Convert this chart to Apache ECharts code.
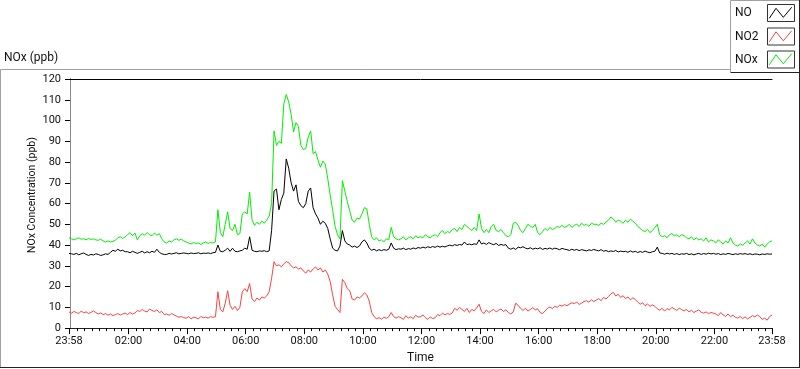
<!DOCTYPE html>
<html>
<head>
<meta charset="utf-8">
<script src="https://cdn.jsdelivr.net/npm/echarts@6/dist/echarts.min.js"></script>
<style>
html,body{margin:0;padding:0;background:#fff;}
#chart{width:800px;height:369px;}
</style>
</head>
<body>
<div id="chart"></div>
<script>
// Time axis: minutes since midnight, first sample at 23:58 (-2), one sample every 5 minutes
const T0 = -2;
const STEP = 5;
const X_MIN = -2;
const X_MAX = 1438;

const majorTickValues = [-2, 120, 240, 360, 480, 600, 720, 840, 960, 1080, 1200, 1320, 1438];
const majorTickLabels = ['23:58', '02:00', '04:00', '06:00', '08:00', '10:00', '12:00', '14:00', '16:00', '18:00', '20:00', '22:00', '23:58'];

const seriesNames = ['NO', 'NO2', 'NOx'];

const noValues = [
  36,35.8,35.5,36,35.3,35.8,36.2,35.5,35,35.5,35.2,35.8,
  35.5,35,35.3,35.8,35.5,36.5,37.5,37,38,37.2,37.5,36.8,
  36.8,36.3,37,36.5,36,36.5,37,36.2,36.8,36.3,37,36.5,
  38,36.5,35.8,35.5,35.5,36,35.7,36,36.3,35.8,36,36.2,
  36,35.8,36.2,35.9,36,36.3,35.8,36.1,36,36.2,35.9,36.3,
  36.5,40,37,36.8,37.5,38.5,37,38.5,37,36.8,37.2,37.5,
  38.5,38,44,37.5,37,36.8,37.2,37,37.3,36.8,37.2,47,
  66,67,57,62,65,81.5,77,70,66,69,61,59,
  58,60,66,67.5,58,55,53,50,51.5,50.5,48,43,
  38.5,37.5,37.2,39.5,47,42,40.5,40,39,39.5,38.8,39.6,
  41.5,42.5,41,38.5,37.5,38,37.2,37.8,37.3,37.8,37.5,38,
  41,38.5,37.8,38.2,38,38.5,37.8,38.3,38,38.6,38.2,38.8,
  38.5,39,38.6,39.2,38.8,39.3,38.9,39.5,39,39.4,39.1,39.6,
  40,39.6,40.2,39.8,40.3,40,41.5,40.2,40.5,40.1,40.6,40.3,
  42.5,40.5,41,40.3,41.2,40.6,40.2,40.8,39.8,40.3,39.9,40.2,
  38.5,38,38.6,37.9,39,38.7,39.2,38.5,38.2,38.7,38,38.5,
  38.2,38.7,37.9,38.4,38.1,38.6,38,38.5,38.2,37.8,38.4,38,
  37.8,37.4,38,37.5,37.9,37.3,37.8,37.5,37.2,37.7,37.4,37.9,
  37.5,37.2,37.8,37,37.4,36.8,37.2,36.9,37.4,36.7,37.1,36.8,
  37,36.5,37.2,36.6,37,36.4,36.9,36.5,37.1,36.6,36.3,36.8,
  37,39,36.2,36,35.6,36.1,35.7,36,35.5,35.9,35.4,35.8,
  35.6,36,35.4,35.8,35.3,35.7,36,35.5,35.9,35.6,36.1,35.7,
  36,35.6,35.9,35.4,35.8,35.5,36,35.7,35.4,35.8,35.5,35.9,
  35.6,35.9,35.5,35.8,35.4,35.7,35.6,35.3,35.7,35.5,35.8,35.6,35.7
];

const no2Values = [
  7.8,7.2,8,7.5,7,8.2,7.4,7.8,7,7.6,8.3,7.5,
  6.8,7.3,6.5,7,6.2,6.8,6,6.5,7,6.3,6.8,7.2,
  6.5,7.5,6.8,7.2,8.5,8,9,8.2,7.8,9.2,8.5,8,
  8.8,7.5,8,6.5,6.8,6.2,7,6.4,5.8,5.2,5.6,5,
  4.8,5.5,4.5,5.2,5,4.4,5.6,5,5.3,4.8,5.5,5.2,
  5.5,17.5,9,7.8,12,18,11,9,10.5,8.5,10,17.5,
  19,17.5,21.5,14,12.8,14.5,13.5,15,14.5,15.5,17.5,24,
  32,30,30.5,29.5,31,32,31.5,30,29,29.5,28.5,29,
  27.5,26.5,28,27,28.5,29.5,28,29,27,28,26,22.5,
  16,10.5,9,7.5,23.5,22,19,18,14,13.5,15,14.5,
  15.5,17,16,13,7.5,5.5,4.5,5,4.3,5.2,4.7,5.5,
  7.5,5.5,4.8,5.5,5,4.2,6,4.8,5.5,4.5,6.2,5.3,
  5.5,6.3,5,4.2,5.4,4.6,5,6.5,6,7.2,6.4,7,
  6.6,7.3,9.5,8.6,10,9,8,9.5,7.5,9,8.3,9.8,
  11.5,8,7,8.8,7.5,8.3,9,7.8,8.6,9.2,8,8.8,
  7.5,6.8,7.8,12,11,9.5,8.5,9.6,8.2,9,9.8,8.8,
  9.3,7.5,7,8.2,9.5,10.2,9.4,10.5,10,11,10.6,11.3,
  10.8,11.5,12.2,11.8,12.5,11.4,12,12.8,13.2,12.5,13.6,12.8,
  13.5,14.2,13.2,14.8,14,15.2,16.5,17.2,15.5,16.3,14.8,15.6,
  14.2,15,13.6,14.6,13.8,12.5,11.5,12.2,10.8,11.6,10.5,11.2,
  10.5,9.3,8.6,9.5,8.2,9.4,8.8,10,9.2,8.5,9.6,8.9,
  8.3,9,7.8,8.6,7.5,8.2,8.8,7.6,7.2,7.8,7,7.5,
  7.2,6.8,6,7.5,6.3,5.6,6.8,5.5,6.2,5.2,4.8,5.6,
  4.6,5.4,4.4,5.2,6,5.4,6.3,5.6,4.2,4.8,3.8,5.5,6.3
];

const noxValues = [
  43.5,43,42.5,43,43.5,42.8,43,42.5,43.2,42.7,43,42.5,
  42.3,42.8,42,41.5,42,41.5,41.8,42.3,43.5,44,43.2,44,
  45,46,44.5,45.8,42.5,44.5,45.5,44.8,46,45,44.5,45.8,
  44.8,45.5,43,41.5,41,42,41.5,42.5,43,42.3,42.8,42,
  41.5,41,40.5,41.2,40.8,41,40.3,41,41.5,40.8,41.2,41,
  41.5,57,46,44,50,56,48,47,50,45,45.5,55,
  56,55,65.5,52,49.5,51,50,51.5,50.5,52,54,60,
  95,88,90,89,108,112.5,109,103,94.5,99,97,88,
  86,86.5,92,95,84,85,81,77.5,80.5,79,72,64,
  57,49,45,43,71,66,61,56.5,52,51,53,52.5,
  55,58,57.5,50,44,42.5,43.5,42,42.5,41.5,43,42.5,
  48.5,44,43,42.5,43,44,42.5,43.5,44,43,44.5,43.5,
  44,43.5,45,44,43.5,44.5,45,44,46,47,45.5,46.5,
  46,47.5,48,46.5,48.5,47.5,50,49,48,47,48.5,47,
  55,48,46,47.5,46,49,50,47,46.5,47.5,46,44.5,
  44,45,50.5,51,49.5,47,46,48,50,49,48.5,50,
  46,45,46.5,48,47,48.5,47.5,48,49,48.5,49.5,48.5,
  49,50,48.5,49.5,50,49,50.5,49.5,50,49,50.5,50,
  50,49.5,50.5,50,51,52,53.5,52.5,51,52,51.5,50.5,
  52,51,52.5,51.5,50.5,49,48,47,46.5,47.5,46,47,
  48.5,50,45,44,44.5,43.5,45,45.5,44.5,45,44,45,
  44.5,43.5,43,44,42.5,43.5,42.5,43,42,43.5,41.5,42.5,
  42,41,42.5,41.5,40.5,42,41,43.5,41,40,39.5,40.5,
  40,41,42,40.5,43,41,40,39.5,40.5,39,40.5,41.5,42
];

const seriesColors = ['#000000', '#ff4040', '#00f000'];
const FONT = 'Roboto, "Noto Sans", "DejaVu Sans", sans-serif';

function toPairs(arr) {
  return arr.map((v, i) => [T0 + i * STEP, v]);
}

const minorTickValues = [];
for (let m = 15; m < X_MAX; m += 15) {
  if (m % 120 !== 0) minorTickValues.push(m);
}

const chart = echarts.init(document.getElementById('chart'), null, {renderer: 'canvas'});

const legendGraphics = [];
const legendRowsY = [4.5, 28, 51];
seriesNames.forEach((name, k) => {
  const by = legendRowsY[k];
  legendGraphics.push({
    type: 'text', x: 735, y: by + 8.5,
    style: {text: name, font: '12px ' + FONT, fill: '#111', textVerticalAlign: 'middle', textAlign: 'left'}
  });
  legendGraphics.push({
    type: 'rect', shape: {x: 767.5, y: by, width: 27, height: 17},
    style: {fill: '#fff', stroke: '#333', lineWidth: 1}
  });
  legendGraphics.push({
    type: 'polyline',
    shape: {points: [[769.3, by + 13.8], [776, by + 3.8], [783.3, by + 12.8], [791.7, by + 2.8]]},
    style: {stroke: seriesColors[k], lineWidth: 1, fill: null}
  });
});

const option = {
  animation: false,
  backgroundColor: '#fff',
  textStyle: {fontFamily: FONT},
  grid: {left: 69, top: 79, right: 28, bottom: 39, show: false},
  xAxis: [
    {
      type: 'value', min: X_MIN, max: X_MAX, position: 'bottom',
      axisLine: {show: true, lineStyle: {color: '#222', width: 1}},
      axisTick: {show: true, customValues: majorTickValues, length: 6, lineStyle: {color: '#000'}},
      axisLabel: {
        customValues: majorTickValues, fontSize: 11, color: '#111', margin: 8, fontFamily: FONT,
        formatter: function (v) {
          const idx = majorTickValues.indexOf(v);
          return idx >= 0 ? majorTickLabels[idx] : '';
        }
      },
      splitLine: {show: false},
      name: 'Time', nameLocation: 'middle', nameGap: 23,
      nameTextStyle: {fontSize: 12, color: '#111', fontFamily: FONT}
    },
    {
      type: 'value', min: X_MIN, max: X_MAX, position: 'bottom',
      axisLine: {show: false},
      axisTick: {show: true, customValues: minorTickValues, length: 3, lineStyle: {color: '#000'}},
      axisLabel: {show: false},
      splitLine: {show: false}
    },
    {
      type: 'value', min: X_MIN, max: X_MAX, position: 'top',
      axisLine: {show: true, lineStyle: {color: '#000'}},
      axisTick: {show: false}, axisLabel: {show: false}, splitLine: {show: false}
    }
  ],
  yAxis: [
    {
      type: 'value', min: 0, max: 120, interval: 10, position: 'left',
      axisLine: {show: true, lineStyle: {color: '#000'}},
      axisTick: {show: true, length: 5, lineStyle: {color: '#000'}},
      axisLabel: {fontSize: 11, color: '#111', margin: 8, fontFamily: FONT},
      splitLine: {show: false}
    },
    {
      type: 'value', min: 0, max: 120, position: 'right',
      axisLine: {show: true, lineStyle: {color: '#8a8a8a'}},
      axisTick: {show: false}, axisLabel: {show: false}, splitLine: {show: false}
    }
  ],
  series: [
    {name: 'NO', type: 'line', data: toPairs(noValues), showSymbol: false, symbol: 'none',
     lineStyle: {color: seriesColors[0], width: 1}, itemStyle: {color: seriesColors[0]}, z: 4},
    {name: 'NO2', type: 'line', data: toPairs(no2Values), showSymbol: false, symbol: 'none',
     lineStyle: {color: seriesColors[1], width: 1}, itemStyle: {color: seriesColors[1]}, z: 3},
    {name: 'NOx', type: 'line', data: toPairs(noxValues), showSymbol: false, symbol: 'none',
     lineStyle: {color: seriesColors[2], width: 1}, itemStyle: {color: seriesColors[2]}, z: 2}
  ],
  graphic: [
    // outer panel frame
    {type: 'line', shape: {x1: 0.5, y1: 69.5, x2: 730, y2: 69.5}, style: {stroke: '#a0a0a0', lineWidth: 1}},
    {type: 'line', shape: {x1: 0.5, y1: 69.5, x2: 0.5, y2: 367.5}, style: {stroke: '#a0a0a0', lineWidth: 1}},
    {type: 'line', shape: {x1: 0, y1: 367.5, x2: 800, y2: 367.5}, style: {stroke: '#222', lineWidth: 1}},
    {type: 'line', shape: {x1: 799.5, y1: 72, x2: 799.5, y2: 368}, style: {stroke: '#222', lineWidth: 1}},
    // legend box
    {type: 'rect', shape: {x: 730.5, y: 0.5, width: 69, height: 71.5}, style: {fill: '#fff', stroke: null}},
    {type: 'line', shape: {x1: 730.5, y1: 0.5, x2: 799.5, y2: 0.5}, style: {stroke: '#a0a0a0', lineWidth: 1}},
    {type: 'line', shape: {x1: 730.5, y1: 0.5, x2: 730.5, y2: 72}, style: {stroke: '#a0a0a0', lineWidth: 1}},
    {type: 'line', shape: {x1: 730.5, y1: 72.5, x2: 800, y2: 72.5}, style: {stroke: '#222', lineWidth: 1}},
    {type: 'line', shape: {x1: 799.5, y1: 0, x2: 799.5, y2: 72.5}, style: {stroke: '#222', lineWidth: 1}}
  ].concat(legendGraphics).concat([
    {type: 'text', x: 4, y: 58, style: {text: 'NOx (ppb)', font: '12px ' + FONT, fill: '#111', textVerticalAlign: 'middle'}},
    {type: 'text', x: 32, y: 195, rotation: Math.PI / 2,
     style: {text: 'NOx Concentration (ppb)', font: '10.5px ' + FONT, fill: '#111', textAlign: 'center', textVerticalAlign: 'middle'}}
  ])
};

chart.setOption(option);
</script>
</body>
</html>
